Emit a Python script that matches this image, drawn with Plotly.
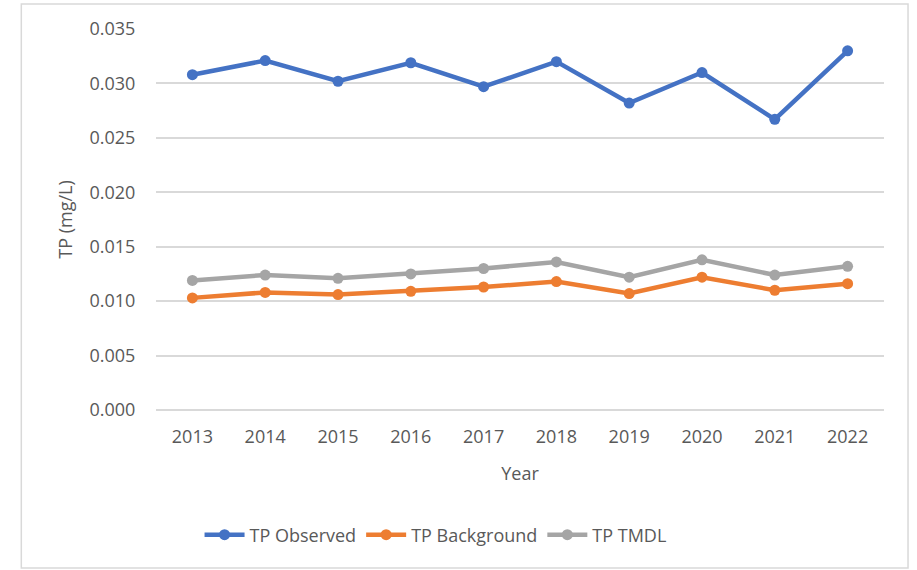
import plotly.graph_objects as go

years = ["2013", "2014", "2015", "2016", "2017", "2018", "2019", "2020", "2021", "2022"]
tp_observed = [0.0308, 0.0321, 0.0302, 0.0319, 0.0297, 0.0320, 0.0282, 0.0310, 0.0267, 0.0330]
tp_background = [0.0103, 0.0108, 0.0106, 0.0109, 0.0113, 0.0118, 0.0107, 0.0122, 0.0110, 0.0116]
tp_tmdl = [0.0119, 0.0124, 0.0121, 0.0125, 0.0130, 0.0136, 0.0122, 0.0138, 0.0124, 0.0132]

series = [
    ("TP Observed", tp_observed, "#4472C4"),
    ("TP Background", tp_background, "#ED7D31"),
    ("TP TMDL", tp_tmdl, "#A5A5A5"),
]

font_family = "Open Sans, Lato, sans-serif"
text_color = "#595959"

fig = go.Figure()
for name, vals, col in series:
    fig.add_trace(go.Scatter(
        x=years, y=vals, name=name, mode="lines+markers",
        line=dict(color=col, width=4.5),
        marker=dict(color=col, size=11),
    ))

fig.update_layout(
    width=917, height=570,
    margin=dict(l=156, r=33, t=29, b=160, autoexpand=False),
    paper_bgcolor="white", plot_bgcolor="white",
    font=dict(family=font_family, size=17, color=text_color),
    showlegend=True,
    legend=dict(orientation="h", x=0.384, xanchor="center", y=-0.328, yanchor="middle",
                font=dict(size=18, color=text_color), itemwidth=40,
                traceorder="normal"),
    xaxis=dict(
        type="category", range=[-0.5, 9.5],
        showgrid=False, showline=False, zeroline=False,
        ticks="outside", ticklen=10, tickcolor="rgba(0,0,0,0)",
        tickfont=dict(size=18, color=text_color),
        title=dict(text="Year", font=dict(size=18, color=text_color), standoff=20),
    ),
    yaxis=dict(
        range=[0, 0.035], dtick=0.005, tickformat=".3f",
        showgrid=True, gridcolor="#D9D9D9", gridwidth=2,
        zeroline=True, zerolinecolor="#D9D9D9", zerolinewidth=2,
        showline=False,
        ticks="outside", ticklen=16, tickcolor="rgba(0,0,0,0)",
        tickfont=dict(size=18, color=text_color),
        title=dict(text="TP (mg/L)", font=dict(size=18, color=text_color), standoff=12),
    ),
    shapes=[dict(type="rect", xref="paper", yref="paper",
                 x0=-0.185, x1=1.033, y0=-0.4147, y1=1.0656,
                 line=dict(color="#D9D9D9", width=1.5), fillcolor="rgba(0,0,0,0)", layer="below")],
)

fig.write_html("out.html", config={"displayModeBar": False},
               post_script="document.body.style.margin='0';")
